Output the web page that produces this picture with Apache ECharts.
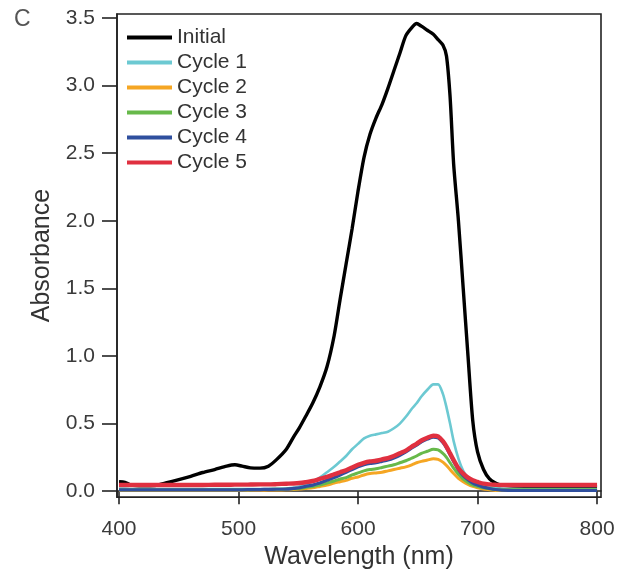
<!DOCTYPE html>
<html>
<head>
<meta charset="utf-8">
<script src="https://cdn.jsdelivr.net/npm/echarts@6/dist/echarts.min.js"></script>
<style>html,body{margin:0;padding:0;background:#fff}#c{width:620px;height:575px}</style>
</head>
<body>
<div id="c"></div>
<script>
const wavelength = [400,405,410,420,430,440,450,460,470,480,490,497,503,510,518,525,532,540,546,551,556,562,568,574,580,585,590,595,600,605,610,615,620,625,630,635,640,645,649,653,658,663,667,671,674,677,680,684,688,692,696,700,705,710,715,720,730,750,775,800];

const initial = [0.07,0.065,0.045,0.04,0.042,0.062,0.085,0.11,0.138,0.16,0.185,0.195,0.185,0.172,0.17,0.185,0.235,0.31,0.40,0.47,0.55,0.65,0.77,0.92,1.15,1.42,1.68,1.94,2.22,2.47,2.64,2.76,2.86,2.98,3.11,3.24,3.37,3.43,3.46,3.44,3.41,3.38,3.34,3.30,3.22,2.92,2.42,2.0,1.5,1.0,0.52,0.29,0.16,0.09,0.06,0.045,0.038,0.035,0.035,0.035];

const cycle1 = [0.02,0.02,0.015,0.015,0.015,0.015,0.015,0.015,0.015,0.015,0.015,0.015,0.015,0.015,0.015,0.015,0.017,0.02,0.025,0.035,0.05,0.07,0.10,0.14,0.18,0.22,0.26,0.31,0.35,0.39,0.41,0.42,0.43,0.44,0.465,0.50,0.55,0.61,0.65,0.70,0.75,0.79,0.79,0.72,0.62,0.50,0.37,0.24,0.15,0.10,0.075,0.06,0.045,0.035,0.025,0.02,0.015,0.015,0.015,0.015];

const cycle2 = [0.005,0.005,0.005,0.005,0.005,0.005,0.005,0.005,0.005,0.005,0.005,0.005,0.005,0.006,0.007,0.008,0.009,0.01,0.012,0.015,0.02,0.025,0.035,0.045,0.06,0.07,0.08,0.095,0.105,0.12,0.13,0.135,0.14,0.15,0.16,0.17,0.18,0.195,0.21,0.22,0.23,0.24,0.235,0.215,0.19,0.16,0.13,0.095,0.07,0.05,0.035,0.025,0.015,0.01,0.005,0.005,0.005,0.005,0.005,0.005];

const cycle3 = [0.01,0.01,0.01,0.01,0.01,0.01,0.01,0.01,0.01,0.01,0.01,0.01,0.01,0.011,0.012,0.013,0.014,0.016,0.018,0.02,0.027,0.035,0.045,0.06,0.075,0.09,0.10,0.12,0.135,0.15,0.16,0.165,0.175,0.185,0.195,0.21,0.225,0.245,0.26,0.28,0.295,0.31,0.305,0.28,0.25,0.21,0.17,0.125,0.09,0.065,0.045,0.035,0.025,0.018,0.012,0.01,0.01,0.01,0.01,0.01];

const cycle4 = [0.01,0.01,0.01,0.01,0.01,0.01,0.01,0.01,0.01,0.01,0.01,0.01,0.01,0.011,0.012,0.013,0.014,0.015,0.02,0.025,0.035,0.045,0.06,0.08,0.10,0.12,0.14,0.16,0.18,0.195,0.205,0.21,0.22,0.23,0.245,0.265,0.29,0.32,0.34,0.365,0.385,0.40,0.395,0.36,0.32,0.27,0.22,0.16,0.115,0.085,0.06,0.045,0.03,0.02,0.012,0.008,0.005,0.005,0.005,0.005];

const cycle5 = [0.045,0.045,0.045,0.045,0.045,0.045,0.045,0.046,0.046,0.047,0.047,0.048,0.048,0.049,0.05,0.05,0.052,0.055,0.057,0.06,0.066,0.075,0.09,0.105,0.125,0.14,0.155,0.175,0.195,0.21,0.22,0.225,0.235,0.245,0.26,0.28,0.30,0.33,0.35,0.375,0.395,0.41,0.405,0.37,0.33,0.28,0.23,0.17,0.13,0.10,0.08,0.068,0.055,0.05,0.047,0.045,0.045,0.045,0.045,0.045];

const xTicks = [400,500,600,700,800];
const yTicks = [0,0.5,1.0,1.5,2.0,2.5,3.0,3.5];

const seriesNames = ['Initial','Cycle 1','Cycle 2','Cycle 3','Cycle 4','Cycle 5'];
const seriesValues = [initial,cycle1,cycle2,cycle3,cycle4,cycle5];
const seriesColors = ['#000000','#6cc9d2','#f5a623','#67b94a','#2f4f9e','#e03040'];
const seriesWidths = [3.4,2.6,3,3,3.2,4.4];

const FONT = 'Liberation Sans';
const chart = echarts.init(document.getElementById('c'), null, {renderer:'canvas'});
const series = seriesNames.map((n,i)=>({
  name:n, type:'line', showSymbol:false, symbol:'none', smooth:0.25,
  data: wavelength.map((w,k)=>[w, seriesValues[i][k]]),
  lineStyle:{color:seriesColors[i], width:seriesWidths[i]},
  itemStyle:{color:seriesColors[i]},
  z: 2+i, animation:false
}));

chart.setOption({
  animation:false,
  backgroundColor:'#fff',
  title:{text:'C', left:9, top:3, textStyle:{fontFamily:FONT, fontSize:23, fontWeight:'normal', color:'#555'}},
  grid:{left:117, right:19, top:14, bottom:75, show:true, borderColor:'#222', borderWidth:1.6, backgroundColor:'transparent'},
  legend:{
    orient:'vertical', left:127, top:25, padding:0, itemGap:0,
    itemWidth:45, itemHeight:4, icon:'rect', itemTextGap:8,
    data:seriesNames,
    textStyle:{fontFamily:FONT, fontSize:21, color:'#333', lineHeight:25}
  },
  xAxis:{
    type:'value', min:398.3, max:803.3,
    name:'Wavelength (nm)', nameLocation:'middle', nameGap:37,
    nameTextStyle:{fontFamily:FONT, fontSize:25, color:'#333'},
    axisLine:{show:true, lineStyle:{color:'#222', width:1.6}},
    axisTick:{show:true, inside:false, length:13, customValues:xTicks, lineStyle:{color:'#222', width:1.6}},
    axisLabel:{customValues:xTicks, margin:22, fontFamily:FONT, fontSize:21, color:'#3a3a3a'},
    splitLine:{show:false}
  },
  yAxis:{
    type:'value', min:-0.044, max:3.53,
    name:'Absorbance', nameLocation:'middle', nameGap:57,
    nameTextStyle:{fontFamily:FONT, fontSize:25, color:'#333'},
    axisLine:{show:true, lineStyle:{color:'#222', width:1.6}},
    axisTick:{show:true, inside:false, length:15, customValues:yTicks, lineStyle:{color:'#222', width:1.6}},
    axisLabel:{customValues:yTicks, margin:22, fontFamily:FONT, fontSize:21, color:'#3a3a3a',
      formatter:(v)=>v.toFixed(1)},
    splitLine:{show:false}
  },
  series:series
});
</script>
</body>
</html>
